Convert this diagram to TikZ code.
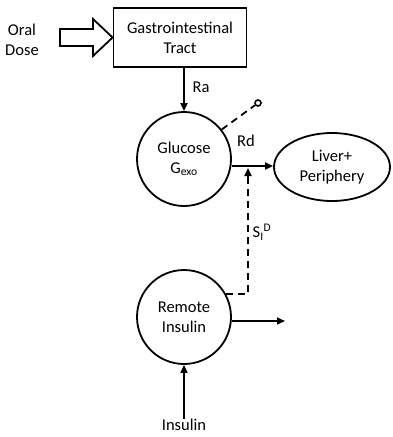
\documentclass[tikz,border=0pt]{standalone}
\usepackage{fontspec}
\setmainfont{Carlito}
\usetikzlibrary{arrows.meta,shapes.geometric}
\begin{document}
\begin{tikzpicture}[x=1pt,y=-1pt,
  lbl/.style={font=\fontsize{16.5}{20}\selectfont, align=center, inner sep=0pt},
  box/.style={draw, line width=1.8pt, minimum width=133pt, minimum height=59pt, lbl},
  pool/.style={draw, circle, line width=1.8pt, minimum size=94pt, lbl},
  flow/.style={line width=1.8pt, -{Triangle[length=8pt,width=7pt]}},
  ctrl/.style={line width=1.8pt, dash pattern=on 7pt off 5pt}]
\useasboundingbox (0,0) rectangle (393,437);

% compartments
\node[box] (gi) at (180,37.5) {Gastrointestinal\\Tract};
\node[pool] (glu) at (184,159) {Glucose\\G\textsubscript{exo}};
\node[draw, ellipse, line width=1.8pt, minimum width=116pt, minimum height=68pt, lbl] (liver) at (332,167) {Liver+\\Periphery};
\node[pool] (rem) at (184,317) {Remote\\Insulin};

% external inputs
\node[lbl] (oral) at (22,40) {Oral\\Dose};
\node[lbl] (ins) at (184,425) {Insulin};

% hollow input arrow for the oral dose
\draw[line width=1.8pt, fill=white] (60,29) -- (93,29) -- (93,19) -- (gi.west) -- (93,56) -- (93,46) -- (60,46) -- cycle;

% flows
\draw[flow] (gi.south -| glu.north) -- (glu.north);
\node[lbl] (ra) at (201,87) {Ra};
\draw[flow] (glu.east |- 0,166) -- (liver.west |- 0,166);
\node[lbl] (rd) at (246,141) {Rd};
\draw[flow] (rem.east |- 0,321) -- (285,321);
\draw[flow] (ins.north) -- (rem.south);

% dashed loss and insulin action
\node[draw, circle, line width=1.6pt, inner sep=0pt, minimum size=6pt] (sink) at (258,103) {};
\draw[ctrl] (glu.38) -- (sink);
\coordinate (act) at (248,168);
\draw[ctrl] (rem.29) -- (rem.29 -| act) -- (248,180);
\draw[line width=1.8pt, -{Triangle[length=8pt,width=7pt]}] (248,180) -- (act);
\node[lbl] (si) at (262,232) {S\textsubscript{I}\textsuperscript{D}};
\end{tikzpicture}
\end{document}
